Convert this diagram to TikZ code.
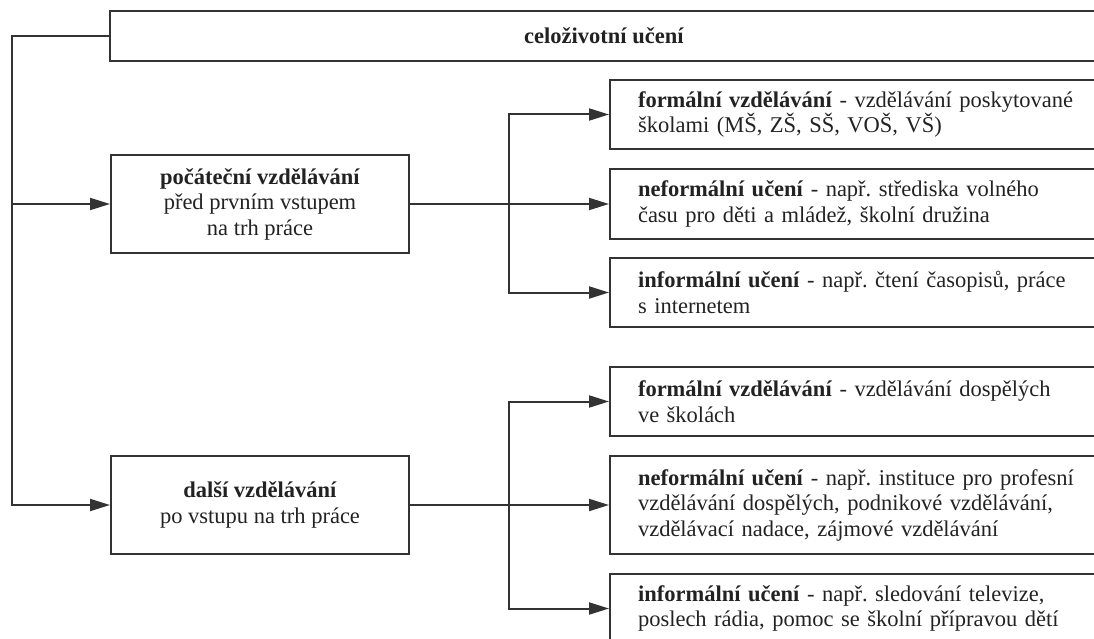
\documentclass[tikz,border=0pt]{standalone}
\usepackage{fontspec}
\setmainfont{Liberation Serif}
\usetikzlibrary{arrows.meta}
\definecolor{lnc}{HTML}{333333}
\definecolor{txc}{HTML}{222222}
\begin{document}
\frenchspacing
\begin{tikzpicture}[x=1pt,y=-1pt,
  every node/.style={font=\fontsize{22.5}{25.5}\selectfont, text=txc},
  box/.style={draw=lnc, line width=2pt, inner sep=0pt},
  lbox/.style={box, minimum width=298pt, minimum height=98pt, align=center},
  rbox/.style={box, anchor=west, text width=470pt, inner xsep=28pt, align=left},
  arr/.style={draw=lnc, line width=2pt, -{Triangle[length=20pt,width=12pt]}},
  conn/.style={draw=lnc, line width=2pt}]
\useasboundingbox (0,0) rectangle (1094,639);
% top
\node[box, minimum width=988pt, minimum height=50pt] (top) at (604,36) {\textbf{celoživotní učení}};
% left boxes
\node[lbox] (pocat) at (260,204) {\textbf{počáteční vzdělávání}\\před prvním vstupem\\na trh práce};
\node[lbox] (dalsi) at (260,505) {\textbf{další vzdělávání}\\po vstupu na trh práce};
% right boxes upper
\node[rbox, minimum height=69pt] (r1) at (609,114.5) {\textbf{formální vzdělávání} - vzdělávání poskytované\\školami (MŠ, ZŠ, SŠ, VOŠ, VŠ)};
\node[rbox, minimum height=69pt] (r2) at (609,204) {\textbf{neformální učení} - např. střediska volného\\času pro děti a mládež, školní družina};
\node[rbox, minimum height=69pt] (r3) at (609,292.5) {\textbf{informální učení} - např. čtení časopisů, práce\\s internetem};
% right boxes lower
\node[rbox, minimum height=69pt] (r4) at (609,401.5) {\textbf{formální vzdělávání} - vzdělávání dospělých\\ve školách};
\node[rbox, minimum height=98pt] (r5) at (609,505) {\textbf{neformální učení} - např. instituce pro profesní\\vzdělávání dospělých, podnikové vzdělávání,\\vzdělávací nadace, zájmové vzdělávání};
\node[rbox, minimum height=69pt] (r6) at (609,608.5) {\textbf{informální učení} - např. sledování televize,\\poslech rádia, pomoc se školní přípravou dětí};
% connectors left
\coordinate (L) at (12,36);
\draw[arr] (top.west) -- (L) |- (dalsi.west);
\draw[arr] (L |- pocat.west) -- (pocat.west);
% connectors right
\coordinate (J) at (509,0);
\draw[arr] (pocat.east) -- (r2.west);
\draw[arr] (pocat.east -| J) |- (r1.west);
\draw[arr] (pocat.east -| J) |- (r3.west);
\draw[arr] (dalsi.east) -- (r5.west);
\draw[arr] (dalsi.east -| J) |- (r4.west);
\draw[arr] (dalsi.east -| J) |- (r6.west);
\end{tikzpicture}
\end{document}
